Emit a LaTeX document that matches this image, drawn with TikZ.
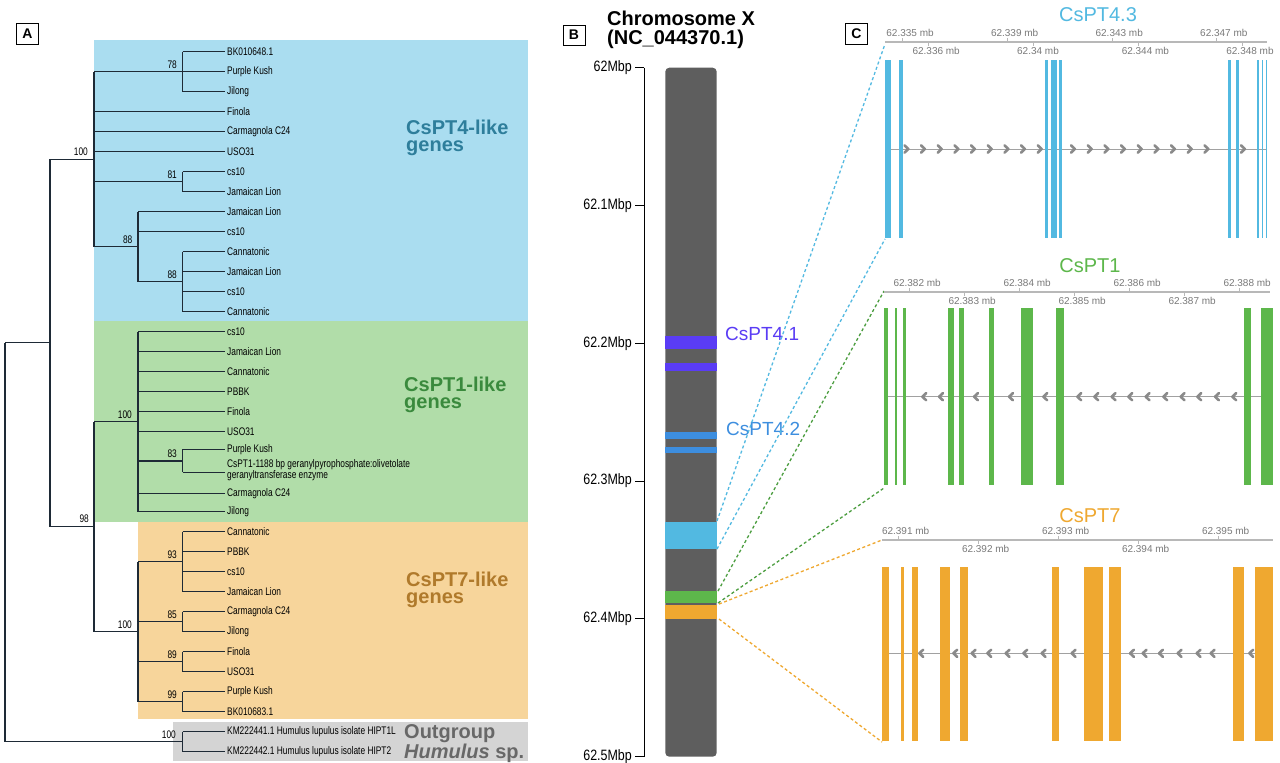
\documentclass[tikz,border=0pt]{standalone}
\usepackage{fontspec}
\setmainfont{Liberation Sans}
\newfontfamily\nar[FakeStretch=0.83]{Liberation Sans}
\newfontfamily\narr[FakeStretch=0.76]{Liberation Sans}
\definecolor{bgblue}{HTML}{AADDF0}
\definecolor{bggreen}{HTML}{B1DDA9}
\definecolor{bgorange}{HTML}{F7D59B}
\definecolor{bggray}{HTML}{D4D4D4}
\definecolor{treec}{HTML}{1E2A36}
\definecolor{t4}{HTML}{2E7E9B}
\definecolor{t1}{HTML}{3A8A3D}
\definecolor{t7}{HTML}{B07A2B}
\definecolor{tout}{HTML}{686868}
\definecolor{chrom}{HTML}{5E5E5E}
\definecolor{cpur}{HTML}{5A3CF5}
\definecolor{cb2}{HTML}{3D8EDF}
\definecolor{cb3}{HTML}{52B9E1}
\definecolor{cgr}{HTML}{5DB74B}
\definecolor{cor}{HTML}{EFA830}
\definecolor{dgr}{HTML}{4C9E40}
\definecolor{mbgray}{HTML}{7A7A7A}
\definecolor{axc}{HTML}{B8B8B8}
\definecolor{chevc}{HTML}{8A8A8A}
\tikzset{
 br/.style={line width=1.1pt, draw=treec},
 leaf/.style={anchor=west, inner sep=2pt, align=left, font=\narr\fontsize{11}{11}\selectfont, text=black},
 bs/.style={anchor=base east, inner sep=0pt, font=\narr\fontsize{11}{12}\selectfont, text=black},
 big/.style={anchor=base west, inner sep=0pt, align=left, font=\bfseries\fontsize{20}{16.5}\selectfont},
 panel/.style={draw, line width=0.8pt, minimum width=22pt, minimum height=21pt, inner sep=0pt, font=\bfseries\fontsize{14}{14}\selectfont},
 tk/.style={anchor=east, inner sep=0pt, font=\nar\fontsize{15}{15}\selectfont},
 mb/.style={anchor=base west, inner sep=0pt, font=\fontsize{10}{10}\selectfont, text=mbgray},
 ttl/.style={anchor=base, inner sep=0pt, font=\fontsize{20}{20}\selectfont},
 bandlab/.style={anchor=base west, inner sep=0pt, font=\fontsize{19}{19}\selectfont},
 chev/.style={draw=chevc, line width=2.6pt, line cap=round, line join=round},
 conn/.style={line width=1.3pt, dash pattern=on 3pt off 2.5pt},
 axl/.style={draw=axc, line width=1.6pt},
 axt/.style={draw=axc, line width=0.8pt},
 intron/.style={draw=chevc!80, line width=0.9pt},
}
\newcommand\lf[4]{\node[leaf] (#1) at (225,#2) {#4}; \draw[br] (#3,#2) -- (#1.west);}
\begin{document}
\begin{tikzpicture}[x=1pt,y=-1pt]
\useasboundingbox (0,0) rectangle (1280,763);
\fill[white] (0,0) rectangle (1280,763);
% ---------------- Panel A backgrounds
\fill[bgblue] (94,40) rectangle (528,321);
\fill[bggreen] (94,321) rectangle (528,522);
\fill[bgorange] (138,522) rectangle (528,719);
\fill[bggray] (173,722) rectangle (528,761);
\node[panel] (pA) at (27.5,34) {A};
% ---------------- tree: CsPT4 clade
\lf{l1}{51.7}{182.7}{BK010648.1}
\lf{l2}{71.7}{182.7}{Purple Kush}
\lf{l3}{91.7}{182.7}{Jilong}
\lf{l4}{111.7}{94}{Finola}
\lf{l5}{131.7}{94}{Carmagnola C24}
\lf{l6}{151.7}{94}{USO31}
\lf{l7}{171.7}{182.7}{cs10}
\lf{l8}{191.7}{182.7}{Jamaican Lion}
\lf{l9}{211.7}{138}{Jamaican Lion}
\lf{l10}{231.7}{138}{cs10}
\lf{l11}{251.7}{182.7}{Cannatonic}
\lf{l12}{271.7}{182.7}{Jamaican Lion}
\lf{l13}{291.7}{182.7}{cs10}
\lf{l14}{311.7}{182.7}{Cannatonic}
\draw[br] (182.7,51.7) -- (182.7,91.7);
\draw[br] (182.7,171.7) -- (182.7,191.7);
\draw[br] (138,211.7) -- (138,281.7);
\draw[br] (182.7,251.7) -- (182.7,311.7);
\draw[br] (94,71.7) -- (94,246.7);
\draw[br] (94,71.7) -- (182.7,71.7);
\draw[br] (94,181.7) -- (182.7,181.7);
\draw[br] (94,246.7) -- (138,246.7);
\draw[br] (138,281.7) -- (182.7,281.7);
\node[bs] at (177,68.2) {78};
\node[bs] at (177,178.2) {81};
\node[bs] at (132.5,243.2) {88};
\node[bs] at (177,278.2) {88};
% ---------------- CsPT1 clade
\lf{l15}{331.7}{138}{cs10}
\lf{l16}{351.7}{138}{Jamaican Lion}
\lf{l17}{371.7}{138}{Cannatonic}
\lf{l18}{391.7}{138}{PBBK}
\lf{l19}{411.7}{138}{Finola}
\lf{l20}{431.7}{138}{USO31}
\lf{l21}{449.3}{182.7}{Purple Kush}
\node[leaf] (l22) at (225,470) {CsPT1-1188 bp geranylpyrophosphate:olivetolate\\geranyltransferase enzyme};
\draw[br] (182.7,472.3) -- ([yshift=-2.3pt]l22.west);
\lf{l23}{493.3}{138}{Carmagnola C24}
\lf{l24}{511.7}{138}{Jilong}
\draw[br] (138,331.7) -- (138,511.7);
\draw[br] (182.7,449.3) -- (182.7,472.3);
\draw[br] (138,461) -- (182.7,461);
\node[bs] at (177,457.5) {83};
% ---------------- CsPT7 clade
\lf{l25}{531.7}{182.7}{Cannatonic}
\lf{l26}{551.7}{182.7}{PBBK}
\lf{l27}{571.7}{182.7}{cs10}
\lf{l28}{591.7}{182.7}{Jamaican Lion}
\lf{l29}{611.7}{182.7}{Carmagnola C24}
\lf{l30}{631.7}{182.7}{Jilong}
\lf{l31}{651.7}{182.7}{Finola}
\lf{l32}{671.7}{182.7}{USO31}
\lf{l33}{691.7}{182.7}{Purple Kush}
\lf{l34}{711.7}{182.7}{BK010683.1}
\draw[br] (182.7,531.7) -- (182.7,591.7);
\draw[br] (182.7,611.7) -- (182.7,631.7);
\draw[br] (182.7,651.7) -- (182.7,671.7);
\draw[br] (182.7,691.7) -- (182.7,711.7);
\draw[br] (138,561.7) -- (138,701.7);
\draw[br] (138,561.7) -- (182.7,561.7);
\draw[br] (138,621.7) -- (182.7,621.7);
\draw[br] (138,661.7) -- (182.7,661.7);
\draw[br] (138,701.7) -- (182.7,701.7);
\node[bs] at (177,558.2) {93};
\node[bs] at (177,618.2) {85};
\node[bs] at (177,658.2) {89};
\node[bs] at (177,698.2) {99};
% ---------------- outgroup
\lf{l35}{731.7}{182.7}{KM222441.1 Humulus lupulus isolate HIPT1L}
\lf{l36}{751.7}{182.7}{KM222442.1 Humulus lupulus isolate HIPT2}
\draw[br] (182.7,731.7) -- (182.7,751.7);
% ---------------- deep nodes
\draw[br] (94,421.7) -- (94,631.7);
\draw[br] (94,421.7) -- (138,421.7);
\draw[br] (94,631.7) -- (138,631.7);
\draw[br] (50,159.2) -- (50,526.7);
\draw[br] (50,159.2) -- (94,159.2);
\draw[br] (50,526.7) -- (94,526.7);
\draw[br] (5,342.9) -- (5,741.7);
\draw[br] (5,342.9) -- (50,342.9);
\draw[br] (5,741.7) -- (182.7,741.7);
\node[bs] at (88,155.7) {100};
\node[bs] at (132,418.2) {100};
\node[bs] at (132,628.2) {100};
\node[bs] at (89,522.5) {98};
\node[bs] at (176,738.2) {100};
% ---------------- clade labels (base = last line)
\node[big, text=t4] (c4) at (406,151) {CsPT4-like\\genes};
\node[big, text=t1] (c1) at (404,408) {CsPT1-like\\genes};
\node[big, text=t7] (c7) at (406,603) {CsPT7-like\\genes};
\node[big, text=tout] (cout) at (404,758) {Outgroup\\\textit{Humulus} sp.};
% ---------------- Panel B
\node[panel, minimum height=20pt] (pB) at (574,35) {B};
\node[anchor=base west, inner sep=0pt, align=left, font=\bfseries\fontsize{20}{19}\selectfont] (chrt) at (607,44) {Chromosome X\\(NC\_044370.1)};
\draw[line width=0.9pt] (644,67.7) -- (644,756.7);
\foreach \yy/\lab in {67.7/62Mbp, 205.5/62.1Mbp, 343.3/62.2Mbp, 481/62.3Mbp, 618.8/62.4Mbp, 756.7/62.5Mbp}{
  \draw[line width=0.9pt] (635,\yy) -- (644,\yy);
  \node[tk] at (632,\yy) {\lab};
}
\fill[chrom, rounded corners=4pt] (665.3,67.7) rectangle (716.7,756.7);
\fill[cpur] (665.3,336) rectangle (716.7,349.3);
\fill[cpur] (665.3,363.3) rectangle (716.7,370.7);
\fill[cb2] (665.3,432.3) rectangle (716.7,439.3);
\fill[cb2] (665.3,446.7) rectangle (716.7,453.3);
\fill[cb3] (665.3,522.3) rectangle (716.7,549.3);
\fill[cgr] (665.3,590.7) rectangle (716.7,603.3);
\fill[cor] (665.3,605) rectangle (716.7,618.7);
\node[bandlab, text=cpur] (lab41) at (725,340) {CsPT4.1};
\node[bandlab, text=cb2] (lab42) at (726,435) {CsPT4.2};
\coordinate (b43a) at (717,521);
\coordinate (b43b) at (717,549);
\coordinate (b1a) at (718,591);
\coordinate (b1b) at (718,603);
\coordinate (b7a) at (719,604);
\coordinate (b7b) at (719,619);
\coordinate (g43a) at (885,44);
\coordinate (g43b) at (885,239);
\coordinate (g1a) at (884,291);
\coordinate (g1b) at (884,488);
\coordinate (g7a) at (882,540);
\coordinate (g7b) at (882,742);
\draw[conn, cb3] (b43a) -- (g43a);
\draw[conn, cb3] (b43b) -- (g43b);
\draw[conn, dgr] (b1a) -- (g1a);
\draw[conn, dgr] (b1b) -- (g1b);
\draw[conn, cor] (b7a) -- (g7a);
\draw[conn, cor] (b7b) -- (g7b);
% ---------------- Panel C
\node[panel] (pC) at (856.5,33.5) {C};
% Track CsPT4.3
\node[ttl, text=cb3] (t43) at (1098,21) {CsPT4.3};
\draw[axl] (885,41.7) -- (1267,41.7);
\foreach \k/\lab in {0/62.335,4/62.339,8/62.343,12/62.347}{
  \pgfmathsetmacro\xx{902.7+\k*26.15}
  \draw[axt] (\xx,41.7) -- (\xx,37.7);
  \node[mb] at (\xx-16.5,36) {\lab\ mb};
}
\foreach \k/\lab in {1/62.336,5/62.34,9/62.344,13/62.348}{
  \pgfmathsetmacro\xx{902.7+\k*26.15}
  \draw[axt] (\xx,41.7) -- (\xx,45.7);
  \node[mb] at (\xx-16.5,54.3) {\lab\ mb};
}
\draw[intron] (885,149) -- (1267,149);
\foreach \a/\b in {885/891, 899.3/902.7, 1045/1047.7, 1051/1056.7, 1059.3/1061.7, 1228.3/1230.7, 1235.7/1238.7, 1256.7/1258.7, 1261.7/1263.3, 1265.7/1267.3}{
  \fill[cb3] (\a,60) rectangle (\b,237.7);
}
\foreach \x in {906.7, 923.3, 940, 956.7, 973.3, 990, 1006.7, 1023.3, 1040, 1073.3, 1090, 1106.7, 1123.3, 1140, 1156.7, 1173.3, 1190, 1206.7, 1243.3}{
  \draw[chev, shift={(\x,149)}] (-2.2,-3.6) -- (1.6,0) -- (-2.2,3.6);
}
% Track CsPT1
\node[ttl, text=cgr] (t1) at (1090,272) {CsPT1};
\draw[axl] (884,291.7) -- (1270,291.7);
\foreach \k/\lab in {0/62.382,2/62.384,4/62.386,6/62.388}{
  \pgfmathsetmacro\xx{909.3+\k*55}
  \draw[axt] (\xx,291.7) -- (\xx,287.7);
  \node[mb] at (\xx-16,286) {\lab\ mb};
}
\foreach \k/\lab in {1/62.383,3/62.385,5/62.387}{
  \pgfmathsetmacro\xx{909.3+\k*55}
  \draw[axt] (\xx,291.7) -- (\xx,295.7);
  \node[mb] at (\xx-16,304) {\lab\ mb};
}
\draw[intron] (884,396.7) -- (1270,396.7);
\foreach \a/\b in {884/888.3, 895/896.7, 902.7/906, 947.7/954.3, 959.3/964.3, 989.3/994, 1021/1033.3, 1056/1064, 1244.3/1251, 1261/1273.3}{
  \fill[cgr] (\a,308.3) rectangle (\b,485);
}
\foreach \x in {924, 940.7, 975.7, 1010.7, 1045, 1079, 1096, 1113.3, 1130, 1147.3, 1165, 1182.3, 1199, 1216.7, 1234}{
  \draw[chev, shift={(\x,396.7)}] (2.2,-3.6) -- (-1.6,0) -- (2.2,3.6);
}
% Track CsPT7
\node[ttl, text=cor] (t7) at (1090,522) {CsPT7};
\draw[axl] (882,540) -- (1273,540);
\foreach \k/\lab in {0/62.391,2/62.393,4/62.395}{
  \pgfmathsetmacro\xx{898.3+\k*80}
  \draw[axt] (\xx,540) -- (\xx,536);
  \node[mb] at (\xx-16.5,534.3) {\lab\ mb};
}
\foreach \k/\lab in {1/62.392,3/62.394}{
  \pgfmathsetmacro\xx{898.3+\k*80}
  \draw[axt] (\xx,540) -- (\xx,544);
  \node[mb] at (\xx-16.5,552.7) {\lab\ mb};
}
\draw[intron] (888,653.3) -- (1273,653.3);
\foreach \a/\b in {882.3/889, 900.7/904.3, 911.7/917.7, 940/950, 960/968.3, 1052.3/1058.7, 1084/1103.3, 1109.3/1121.3, 1232.7/1244.3, 1255/1273.3}{
  \fill[cor] (\a,566.7) rectangle (\b,740.7);
}
\foreach \x in {921, 955, 973.3, 989, 1007.3, 1025, 1043.3, 1073.3, 1131.7, 1144.3, 1160.7, 1179.3, 1198.3, 1212.3, 1251}{
  \draw[chev, shift={(\x,653.3)}] (2.2,-3.6) -- (-1.6,0) -- (2.2,3.6);
}
\end{tikzpicture}
\end{document}
